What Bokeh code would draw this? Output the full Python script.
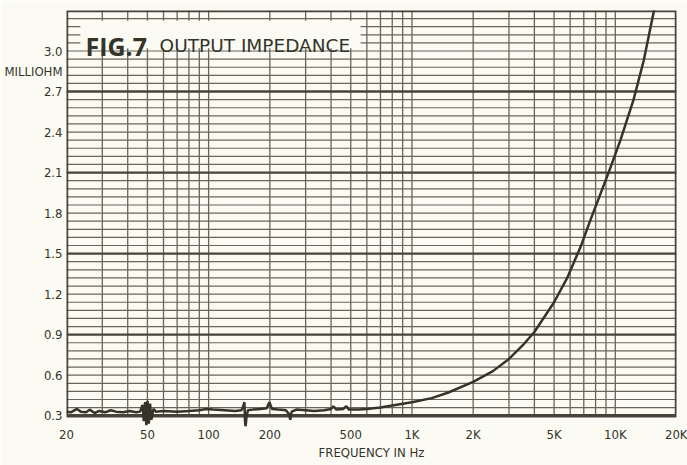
from bokeh.plotting import figure
from bokeh.models import FixedTicker, PrintfTickFormatter, Label, BoxAnnotation, Range1d
from bokeh.embed import file_html
from bokeh.resources import INLINE

# ---- data ----
freq_hz = [20, 21, 22.5, 23.5, 25, 26, 27.5, 29, 31, 33,
           35, 38, 41, 44, 46, 47.3, 48, 48.7, 49.4, 50.1,
           50.8, 51.5, 52.3, 53.5, 55, 60, 70, 80, 90, 97,
           105, 120, 135, 145, 148, 150, 151, 152, 153.5, 156,
           165, 180, 193, 199, 205, 220, 240, 249, 252, 256,
           270, 300, 330, 370, 400, 410, 425, 460, 475, 490,
           550, 600, 700, 800, 1000, 1250, 1500, 2000, 2500, 3000,
           3500, 4000, 5000, 5800, 6750, 7550, 9270, 10600, 12300, 13800,
           15400, 16000]
impedance_mohm = [0.33, 0.325, 0.35, 0.33, 0.325, 0.345, 0.32, 0.335, 0.325, 0.34,
                  0.33, 0.325, 0.335, 0.325, 0.33, 0.38, 0.26, 0.40, 0.23, 0.41,
                  0.24, 0.39, 0.27, 0.35, 0.33, 0.335, 0.33, 0.335, 0.34, 0.35,
                  0.345, 0.34, 0.335, 0.34, 0.37, 0.40, 0.26, 0.22, 0.29, 0.34,
                  0.345, 0.35, 0.355, 0.40, 0.35, 0.345, 0.34, 0.31, 0.27, 0.33,
                  0.345, 0.34, 0.335, 0.34, 0.35, 0.37, 0.345, 0.35, 0.37, 0.345,
                  0.345, 0.35, 0.36, 0.375, 0.40, 0.43, 0.47, 0.55, 0.63, 0.72,
                  0.82, 0.92, 1.14, 1.32, 1.55, 1.75, 2.10, 2.34, 2.64, 2.93,
                  3.28, 3.40]

x_tick_values = [20, 50, 100, 200, 500, 1000, 2000, 5000, 10000, 20000]
x_tick_labels = ["20", "50", "100", "200", "500", "1K", "2K", "5K", "10K", "20K"]
y_tick_values = [0.3, 0.6, 0.9, 1.2, 1.5, 1.8, 2.1, 2.4, 2.7, 3.0]
unit_label = "MILLIOHM"
unit_label_at = 2.85

title_main = "FIG.7"
title_sub = "OUTPUT IMPEDANCE"
x_axis_title = "FREQUENCY IN Hz"

x_min, x_max = 20, 20000
y_min, y_max = 0.3, 3.3

# grid positions (chart paper)
v_grid = [m * 10 ** e for e in (1, 2, 3, 4) for m in range(1, 10) if x_min < m * 10 ** e < x_max]
h_thick = [0.9, 1.5, 2.1, 2.7]
h_thin = [round(0.3 + 0.06 * k, 2) for k in range(1, 50) if k % 10 != 0]

# ---- style ----
paper = "#fbfbf3"
ink = "#34342b"
grid_col = "#66665a"
label_font = "DejaVu Sans Condensed, Roboto"

p = figure(width=687, height=465, x_axis_type="log",
           x_range=Range1d(x_min, x_max), y_range=Range1d(0.22, y_max),
           output_backend="svg", toolbar_location=None,
           min_border_left=66, min_border_right=11, min_border_top=10, min_border_bottom=39)
p.background_fill_color = paper
p.border_fill_color = paper
p.outline_line_color = None
p.xgrid.grid_line_color = None
p.ygrid.grid_line_color = None

p.segment(x0=v_grid, y0=[y_min] * len(v_grid), x1=v_grid, y1=[y_max] * len(v_grid),
          line_color=grid_col, line_width=1.3)
p.segment(x0=[x_min] * len(h_thin), y0=h_thin, x1=[x_max] * len(h_thin), y1=h_thin,
          line_color=grid_col, line_width=1.2)
p.segment(x0=[x_min] * len(h_thick), y0=h_thick, x1=[x_max] * len(h_thick), y1=h_thick,
          line_color="#44443a", line_width=2.4)
p.quad(left=[x_min], right=[x_max], bottom=[y_min], top=[y_max],
       fill_color=None, line_color="#44443a", line_width=3.5)

p.line(freq_hz, impedance_mohm, line_color=ink, line_width=2.5)

# title box
p.add_layout(BoxAnnotation(left=23.4, right=559, bottom=3.02, top=3.224,
                           fill_color=paper, fill_alpha=1.0, line_color=None))
p.add_layout(Label(x=24.8, y=3.04, text=title_main, text_font="Open Sans",
                   text_font_style="bold", text_font_size="25px", text_color=ink,
                   text_baseline="alphabetic"))
p.add_layout(Label(x=57.4, y=3.04, text=title_sub, text_font="DejaVu Sans",
                   text_font_size="18.5px", text_color=ink, text_baseline="alphabetic"))

# axes
for ax in (p.xaxis, p.yaxis):
    ax.axis_line_color = None
    ax.major_tick_line_color = None
    ax.minor_tick_line_color = None
    ax.major_tick_out = 0
    ax.major_tick_in = 0
    ax.major_label_text_font = label_font
    ax.major_label_text_font_size = "13px"
    ax.major_label_text_color = ink

p.xaxis.ticker = FixedTicker(ticks=x_tick_values)
p.xaxis.major_label_overrides = dict(zip(x_tick_values, x_tick_labels))
p.xaxis.major_label_standoff = 0
p.xaxis.axis_label = x_axis_title
p.xaxis.axis_label_text_font = label_font
p.xaxis.axis_label_text_font_size = "13px"
p.xaxis.axis_label_text_font_style = "normal"
p.xaxis.axis_label_text_color = ink
p.xaxis.axis_label_standoff = 0

p.yaxis.ticker = FixedTicker(ticks=y_tick_values + [unit_label_at])
p.yaxis.formatter = PrintfTickFormatter(format="%.1f")
p.yaxis.major_label_overrides = {unit_label_at: unit_label}
p.yaxis.major_label_standoff = 4

open("out.html", "w").write(file_html(p, INLINE))
